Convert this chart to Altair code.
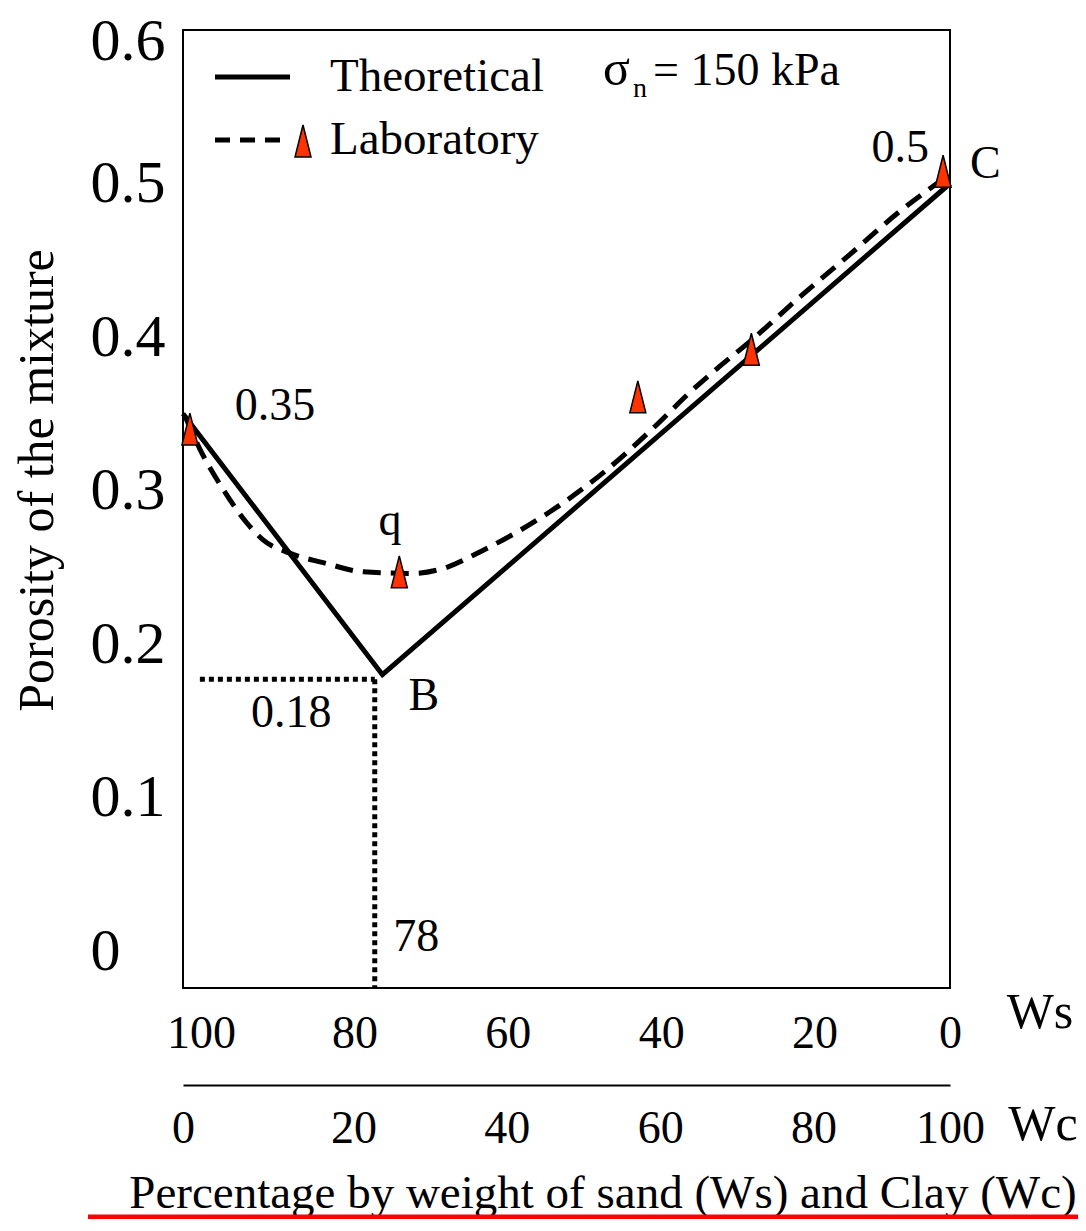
import altair as alt
import pandas as pd

FONT = "Liberation Serif"

# ---- data (x = percentage of clay Wc, y = porosity) ----
theory_wc = [0, 26, 100]
theory_por = [0.35, 0.18, 0.50]

lab_wc = [0.9, 28.2, 59.3, 74.1, 99.1]
lab_por = [0.340, 0.247, 0.361, 0.392, 0.508]

fit_wc = [0.3, 2.2, 5.2, 8.3, 10.4, 14.0, 18.3, 23.5, 30.0, 34.4, 38.7,
          47.8, 54.4, 61.8, 66.1, 70.0, 73.9, 80.4, 87.0, 93.5, 100.0]
fit_por = [0.348, 0.327, 0.301, 0.279, 0.268, 0.259, 0.253, 0.247, 0.246,
           0.250, 0.260, 0.286, 0.310, 0.343, 0.364, 0.381, 0.397, 0.426,
           0.454, 0.482, 0.506]

guide_por = 0.177
guide_wc = 25.0
guide_wc_start = 2.2

y_ticks = [0, 0.1, 0.2, 0.3, 0.4, 0.5, 0.6]
x_ticks = [0, 20, 40, 60, 80, 100]

ann_text = ["0.35", "q", "B", "0.18", "78", "0.5", "C"]
ann_wc = [12.0, 27.0, 31.4, 14.1, 30.4, 93.5, 104.6]
ann_por = [0.355, 0.280, 0.166, 0.155, 0.009, 0.523, 0.513]

Y_MIN = -0.0241
W, H = 767, 958

theory = pd.DataFrame({"wc": theory_wc, "por": theory_por})
lab = pd.DataFrame({"wc": lab_wc, "por": lab_por})
fit = pd.DataFrame({"wc": fit_wc, "por": fit_por})
ann = pd.DataFrame({"wc": ann_wc, "por": ann_por, "t": ann_text})
one = pd.DataFrame({"a": [0]})
hguide = pd.DataFrame({"wc": [guide_wc_start], "wc2": [guide_wc], "por": [guide_por]})
vguide = pd.DataFrame({"wc": [guide_wc], "por": [guide_por], "por2": [Y_MIN]})

xs = alt.Scale(domain=[0, 100], nice=False, zero=False)
ys = alt.Scale(domain=[Y_MIN, 0.6], nice=False, zero=False)

TRI = "M0,-1L0.5,1L-0.5,1Z"

wc_axis = alt.Axis(
    orient="bottom", offset=97, values=x_ticks, ticks=False, domain=True,
    domainColor="black", domainWidth=2, labelFont=FONT, labelFontSize=46,
    labelColor="black", labelPadding=21, labelFlush=False, labelOverlap=False,
    labelOffset={"condition": {"test": "datum.value == 0 || datum.value == 100", "value": 0}, "value": 17},
    grid=False, title=None,
)
ws_axis = alt.Axis(
    orient="bottom", offset=0, values=x_ticks, ticks=False, domain=False,
    labelFont=FONT, labelFontSize=46, labelColor="black", labelPadding=23,
    labelFlush=False, labelOverlap=False, labelExpr="100 - datum.value",
    labelOffset={"condition": {"test": "datum.value == 100", "value": 0}, "value": 18},
    grid=False, title=None,
)
y_axis = alt.Axis(
    orient="left", values=y_ticks, ticks=False, domain=False, grid=False,
    labelFont=FONT, labelFontSize=60, labelColor="black", labelAlign="left",
    labelPadding=93, labelOverlap=False, labelFlush=False,
    labelExpr="datum.value == 0 ? '0' : format(datum.value, '.1f')",
    labelOffset={"condition": {"test": "datum.value >= 0.59", "value": 11}, "value": 0},
    title="Porosity of the mixture", titleFont=FONT, titleFontSize=50,
    titleFontWeight="normal", titleColor="black", titlePadding=28,
    titleY=450,
)

theory_line = alt.Chart(theory).mark_line(color="black", strokeWidth=5).encode(
    x=alt.X("wc:Q", scale=xs, axis=wc_axis),
    y=alt.Y("por:Q", scale=ys, axis=y_axis),
)
fit_line = alt.Chart(fit).mark_line(
    color="black", strokeWidth=5, strokeDash=[18, 10], interpolate="monotone"
).encode(
    x=alt.X("wc:Q", scale=xs, axis=ws_axis),
    y=alt.Y("por:Q", scale=ys, axis=None),
)
hline = alt.Chart(hguide).mark_rule(color="black", strokeWidth=5, strokeDash=[5, 4]).encode(
    x=alt.X("wc:Q", scale=xs, axis=None), x2="wc2:Q",
    y=alt.Y("por:Q", scale=ys, axis=None),
)
vline = alt.Chart(vguide).mark_rule(color="black", strokeWidth=5, strokeDash=[5, 4]).encode(
    x=alt.X("wc:Q", scale=xs, axis=None),
    y=alt.Y("por:Q", scale=ys, axis=None), y2="por2:Q",
)
points = alt.Chart(lab).mark_point(
    shape=TRI, size=1024, filled=True, fill="#FF3300", stroke="black",
    strokeWidth=1.5, opacity=1,
).encode(
    x=alt.X("wc:Q", scale=xs, axis=None),
    y=alt.Y("por:Q", scale=ys, axis=None),
)
labels = alt.Chart(ann).mark_text(
    font=FONT, fontSize=46, color="black", align="center", baseline="middle"
).encode(
    x=alt.X("wc:Q", scale=xs, axis=None),
    y=alt.Y("por:Q", scale=ys, axis=None),
    text="t:N",
)

# ---- legend and free text (pixel positions in the view) ----
base = alt.Chart(one)
leg_solid = base.mark_rule(color="black", strokeWidth=5).encode(
    x=alt.value(32), x2=alt.value(107), y=alt.value(47))
leg_dash = base.mark_rule(color="black", strokeWidth=5, strokeDash=[15, 10]).encode(
    x=alt.value(32), x2=alt.value(107), y=alt.value(110))
leg_tri = base.mark_point(
    shape=TRI, size=1024, filled=True, fill="#FF3300", stroke="black",
    strokeWidth=1.5, opacity=1).encode(x=alt.value(120), y=alt.value(111))


def txt(s, x, y, size=46, align="left", baseline="middle", color="black"):
    return base.mark_text(text=s, font=FONT, fontSize=size, align=align,
                          baseline=baseline, color=color).encode(
        x=alt.value(x), y=alt.value(y))


leg_t1 = txt("Theoretical", 147, 47, 47)
leg_t2 = txt("Laboratory", 147, 110, 47)
sig = txt("σ", 420, 55, 50, baseline="alphabetic")
sig_n = txt("n", 450, 67, 28, baseline="alphabetic")
sig_rest = txt("= 150 kPa", 470, 55, 46, baseline="alphabetic")
ws_t = txt("Ws", 857, 983, 50, align="center")
wc_t = txt("Wc", 860, 1095, 50, align="center")
caption = txt("Percentage by weight of sand (Ws) and Clay (Wc)", 420, 1178, 47,
              align="center", baseline="alphabetic")
red = base.mark_rule(color="#FF0000", strokeWidth=5).encode(
    x=alt.value(-95), x2=alt.value(895), y=alt.value(1187))

chart = alt.layer(
    theory_line, fit_line, hline, vline, points, labels,
    leg_solid, leg_dash, leg_tri, leg_t1, leg_t2, sig, sig_n, sig_rest,
    ws_t, wc_t, caption, red,
).resolve_axis(x="independent", y="independent").properties(
    width=W, height=H,
    background="white",
    autosize=alt.AutoSizeParams(type="none"),
    padding={"left": 175, "top": 22, "right": 128, "bottom": 231},
).configure_view(stroke="black", strokeWidth=2)

chart.save("out.html", embed_options={"renderer": "svg", "actions": False})
